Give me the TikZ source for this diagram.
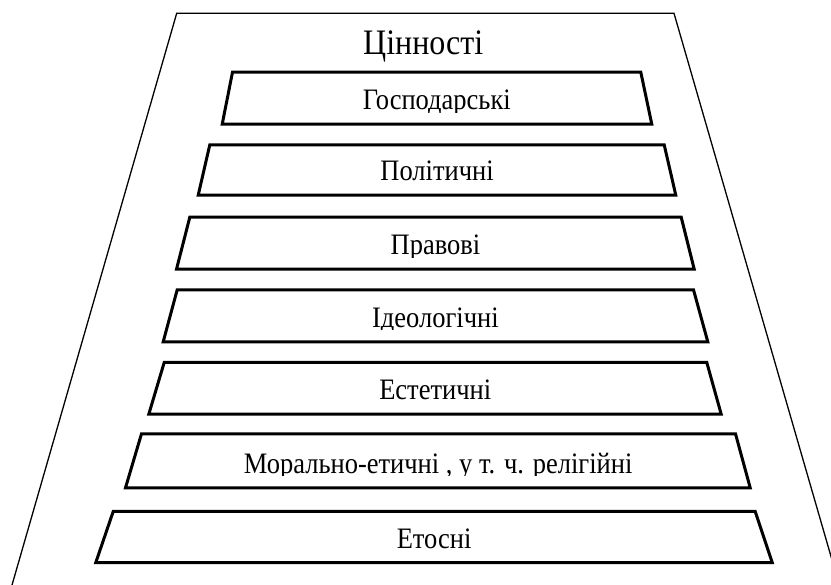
\documentclass[tikz,border=0pt]{standalone}
\usepackage{fontspec}
\setmainfont{Liberation Serif}
\newfontfamily\tnrfont{Liberation Serif}[Script=Cyrillic]
\tikzset{
  outerline/.style={line width=1.3pt, black},
  valframe/.style={line width=3pt, black, line join=miter},
  vallabel/.style={anchor=base, inner sep=0pt, yscale=1.12, font=\tnrfont\fontsize{26.5}{30}\selectfont},
  titlelabel/.style={anchor=base, inner sep=0pt, yscale=1.12, font=\tnrfont\fontsize{32}{36}\selectfont}
}
% #1 top, #2 bottom, #3 TL x, #4 TR x, #5 BL x, #6 BR x, #7 name, #8 text
\newcommand\valbox[8]{%
  \draw[valframe] ({#3+1.5},{#1+1.5}) -- ({#4-1.5},{#1+1.5}) -- ({#6-1.5},{#2-1.5}) -- ({#5+1.5},{#2-1.5}) -- cycle;
  \begin{scope}
    \clip (0,{#1+3}) rectangle (831,{#2-13.5});
    \node[vallabel] (#7) at ({(#3+#4+#5+#6)/4},{#2-16}) {#8};
  \end{scope}
}
\begin{document}
\begin{tikzpicture}[x=1pt,y=-1pt]
\useasboundingbox (0,0) rectangle (831,585);
\begin{scope}
  \clip (0,0) rectangle (831,585);
  \coordinate (oBL) at (7.7,600);
  \coordinate (oTL) at (176.7,13.3);
  \coordinate (oTR) at (674,13.3);
  \coordinate (oBR) at (843.6,600);
  \draw[outerline] (oBL) -- (oTL) -- (oTR) -- (oBR);
\end{scope}
\node[titlelabel] (title) at (423.3,55) {Цінності};
\valbox{70.7}{125.7}{231}{642.3}{220.7}{653.3}{b1}{Господарські}
\valbox{143.3}{196.7}{208.3}{665.7}{196.7}{677.3}{b2}{Політичні}
\valbox{215.7}{270.7}{188.3}{682.7}{175}{695.7}{b3}{Правові}
\valbox{288.3}{343.3}{175.7}{695}{161.7}{709.3}{b4}{Ідеологічні}
\valbox{361}{415.7}{162.7}{708.3}{147.3}{722.7}{b5}{Естетичні}
\valbox{432.3}{489.3}{140}{737}{124}{751.7}{b6}{Морально-етичні , у т. ч. релігійні}
\valbox{510}{564}{111.7}{756.7}{94.3}{773.7}{b7}{Етосні}
\end{tikzpicture}
\end{document}
